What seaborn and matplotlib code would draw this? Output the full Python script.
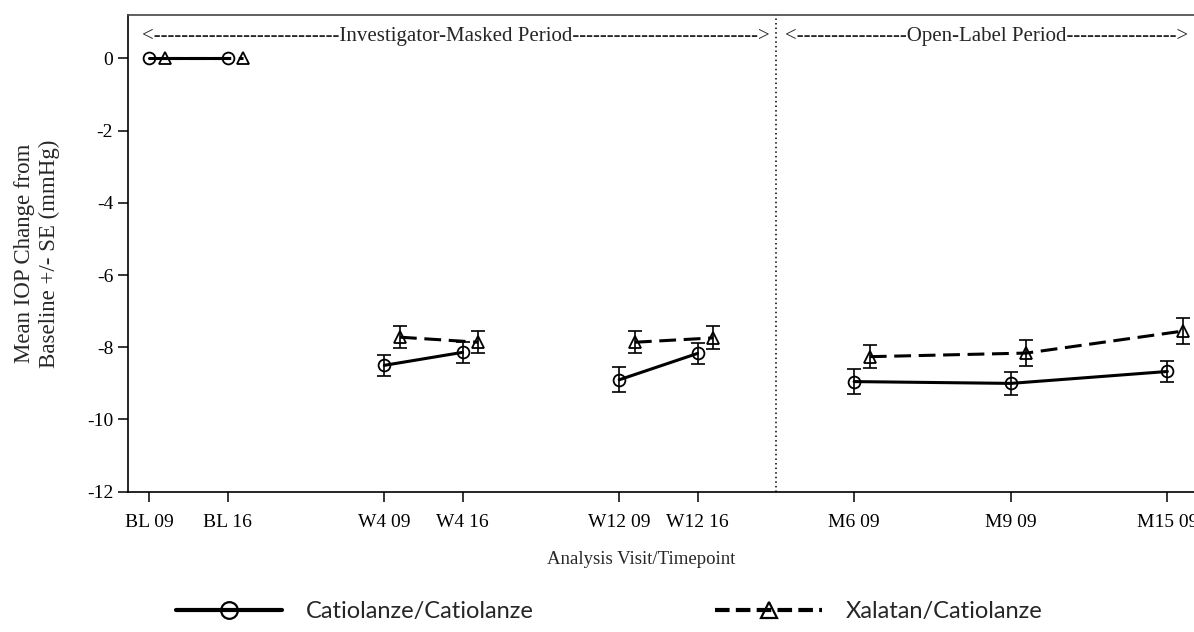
import numpy as np
import pandas as pd
import matplotlib
matplotlib.use("Agg")
import matplotlib.pyplot as plt
from matplotlib.lines import Line2D
import seaborn as sns

# visits and mean change from baseline (+/- SE)
visits = ["BL 09", "BL 16", "W4 09", "W4 16", "W12 09", "W12 16", "M6 09", "M9 09", "M15 09"]
visit_slot = [0, 1, 3, 4, 6, 7, 9, 11, 13]
segment = ["BL", "BL", "W4", "W4", "W12", "W12", "M", "M", "M"]

cat_mean = [0, 0, -8.50, -8.14, -8.90, -8.17, -8.95, -9.00, -8.67]
cat_se = [0, 0, 0.29, 0.29, 0.35, 0.28, 0.35, 0.32, 0.29]
xal_mean = [0, 0, -7.72, -7.86, -7.86, -7.74, -8.26, -8.16, -7.55]
xal_se = [0, 0, 0.30, 0.31, 0.30, 0.32, 0.31, 0.35, 0.35]

arms = ["Catiolanze/Catiolanze", "Xalatan/Catiolanze"]

sns.set_style("ticks")
plt.rcParams["font.family"] = ["Liberation Serif", "DejaVu Serif"]
plt.rcParams["axes.unicode_minus"] = False

dodge = [0.0, 0.2]
frames = []
for arm, m, se, d in zip(arms, [cat_mean, xal_mean], [cat_se, xal_se], dodge):
    frames.append(pd.DataFrame({
        "x": np.array(visit_slot) + d,
        "mean": m,
        "se": se,
        "seg": segment,
        "arm": arm,
    }))
df = pd.concat(frames, ignore_index=True)

fig = plt.figure(figsize=(11.94, 6.32), dpi=100)
ax = fig.add_axes([0.107, 0.222, 0.893, 0.754])

markers = {arms[0]: "o", arms[1]: "^"}
dashes = {arms[0]: "", arms[1]: (5.5, 2.5)}

# dashed arm first so the solid one sits on top at baseline
for arm in arms[::-1]:
    sub = df[df["arm"] == arm]
    sns.lineplot(data=sub, x="x", y="mean", style="arm", units="seg", estimator=None,
                 markers=markers, dashes=dashes, color="black", linewidth=2.2,
                 markersize=8.5, markerfacecolor="none", markeredgecolor="black",
                 markeredgewidth=1.3, legend=False, ax=ax, sort=False)
    err = sub[sub["se"] > 0]
    ax.errorbar(err["x"], err["mean"], yerr=err["se"], fmt="none", ecolor="black",
                elinewidth=1.2, capsize=5, capthick=1.2)

ax.axvline(8, color="black", linestyle=(0, (1, 2)), linewidth=1.1)

ax.set_xlim(-0.276, 13.34)
ax.set_ylim(-12, 1.2)
ax.set_xticks(visit_slot)
ax.set_xticklabels(visits)
ax.set_yticks(np.arange(0, -13, -2))
ax.tick_params(direction="out", length=7, width=1.1, labelsize=14, colors="black")
ax.tick_params(axis="x", pad=9)
for s in ["left", "bottom", "top"]:
    ax.spines[s].set_color("black")
    ax.spines[s].set_linewidth(1.2)
ax.spines["top"].set_color("#444444")
ax.spines["right"].set_visible(False)

ax.set_xlabel("Analysis Visit/Timepoint", fontsize=13.5)
ax.xaxis.set_label_coords(0.482, -0.125)
ax.set_ylabel("Mean IOP Change from\nBaseline +/- SE (mmHg)", fontsize=16.5)
ax.yaxis.set_label_coords(-0.064, 0.5)

ax.text(-0.093, 0.62, "<" + "-" * 27 + "Investigator-Masked Period" + "-" * 27 + ">",
        ha="left", va="center", fontsize=15)
ax.text(8.12, 0.62, "<" + "-" * 16 + "Open-Label Period" + "-" * 16 + ">",
        ha="left", va="center", fontsize=15)

handles = [
    Line2D([], [], color="black", linewidth=3, marker="o", markersize=12,
           markerfacecolor="none", markeredgewidth=1.6),
    Line2D([], [], color="black", linewidth=3, linestyle=(0, (3.5, 1.5)), marker="^",
           markersize=12, markerfacecolor="none", markeredgewidth=1.6),
]
fig.legend(handles, arms, loc="center", bbox_to_anchor=(0.51, 0.032), ncol=2,
           frameon=False, handlelength=4.5, columnspacing=7.7, handletextpad=1.0,
           prop={"family": ["Lato", "DejaVu Sans"], "size": 17})

fig.savefig("out.png", dpi=100, facecolor="white")
